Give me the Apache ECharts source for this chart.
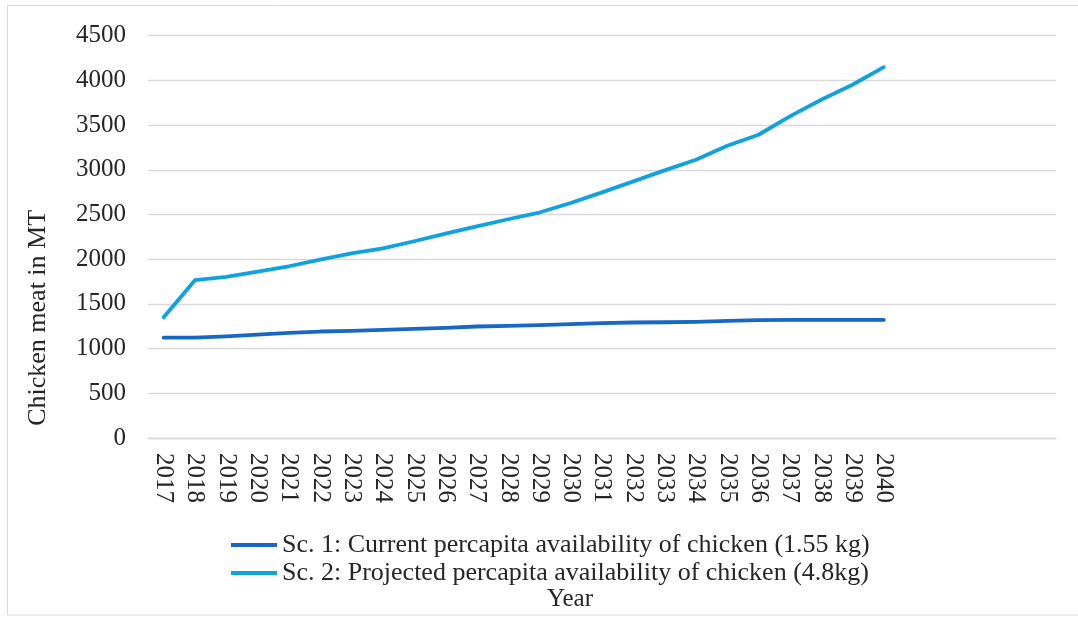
<!DOCTYPE html>
<html>
<head>
<meta charset="utf-8">
<script src="https://cdn.jsdelivr.net/npm/echarts@6/dist/echarts.min.js"></script>
<style>
  html, body { margin: 0; padding: 0; background: #ffffff; }
  #chart { width: 1078px; height: 617px; }
</style>
</head>
<body>
<div id="chart"></div>
<script>
// ---- data ----
const years = ['2017','2018','2019','2020','2021','2022','2023','2024','2025','2026','2027','2028',
               '2029','2030','2031','2032','2033','2034','2035','2036','2037','2038','2039','2040'];
const emptySlots = ['', '', '', '', ''];
const seriesNames = [
  'Sc. 1: Current percapita availability of chicken (1.55 kg)',
  'Sc. 2: Projected percapita availability of chicken (4.8kg)'
];
const sc1 = [1123, 1123, 1137, 1157, 1176, 1191, 1198, 1210, 1221, 1232, 1247, 1255,
             1262, 1273, 1284, 1292, 1295, 1299, 1310, 1318, 1321, 1321, 1321, 1321];
const sc2 = [1350, 1765, 1803, 1862, 1921, 1996, 2066, 2122, 2201, 2287, 2368, 2447,
             2522, 2629, 2748, 2871, 2994, 3113, 3269, 3392, 3597, 3783, 3951, 4148];
const yTicks = { min: 0, max: 4500, interval: 500 };
const yTitle = 'Chicken meat in MT';
const xTitle = 'Year';

const categories = years.concat(emptySlots);
const fontFamily = "'Liberation Serif', 'Times New Roman', serif";
const textColor = '#262626';
const colors = ['#1768C4', '#10A2DC'];

const chart = echarts.init(document.getElementById('chart'), null, { renderer: 'canvas' });
chart.setOption({
  backgroundColor: '#ffffff',
  animation: false,
  color: colors,
  graphic: [{
    type: 'rect',
    silent: true,
    shape: { x: 7.5, y: 5.5, width: 1080, height: 609.5 },
    style: { fill: 'none', stroke: '#D9D9D9', lineWidth: 1 }
  }],
  grid: { left: 148, right: 22, top: 35.7, bottom: 178.3 },
  legend: {
    orient: 'vertical',
    left: 226,
    top: 527,
    itemWidth: 46,
    itemHeight: 4,
    itemGap: 2,
    icon: 'rect',
    textStyle: { fontFamily: fontFamily, fontSize: 26, color: textColor, lineHeight: 26 },
    data: seriesNames
  },
  xAxis: {
    type: 'category',
    data: categories,
    boundaryGap: true,
    name: xTitle,
    nameLocation: 'middle',
    nameGap: 149,
    nameTextStyle: { fontFamily: fontFamily, fontSize: 25, color: textColor, padding: [0, 64, 0, 0] },
    axisLine: { show: true, lineStyle: { color: '#D9D9D9', width: 1.3 } },
    axisTick: { show: false },
    axisLabel: {
      interval: 0,
      rotate: -90,
      margin: 15,
      fontFamily: fontFamily,
      fontSize: 25,
      color: textColor
    },
    splitLine: { show: false }
  },
  yAxis: {
    type: 'value',
    min: yTicks.min,
    max: yTicks.max,
    interval: yTicks.interval,
    name: yTitle,
    nameLocation: 'middle',
    nameRotate: 90,
    nameGap: 97,
    nameTextStyle: { fontFamily: fontFamily, fontSize: 26, color: textColor, padding: [0, 162, 0, 0] },
    axisLine: { show: false },
    axisTick: { show: false },
    axisLabel: {
      margin: 22,
      fontFamily: fontFamily,
      fontSize: 25,
      color: textColor,
      formatter: function (v) { return String(v); }
    },
    splitLine: { show: true, lineStyle: { color: '#D9D9D9', width: 1.3 } }
  },
  series: [
    {
      name: seriesNames[0],
      type: 'line',
      data: sc1,
      showSymbol: false,
      symbol: 'none',
      lineStyle: { width: 3.8, color: colors[0], cap: 'round', join: 'round' },
      itemStyle: { color: colors[0] }
    },
    {
      name: seriesNames[1],
      type: 'line',
      data: sc2,
      showSymbol: false,
      symbol: 'none',
      lineStyle: { width: 3.8, color: colors[1], cap: 'round', join: 'round' },
      itemStyle: { color: colors[1] }
    }
  ]
});
</script>
</body>
</html>
